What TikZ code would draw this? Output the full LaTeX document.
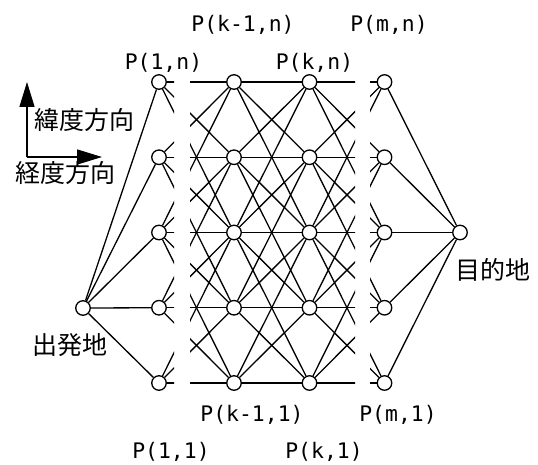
\documentclass[tikz,border=0pt]{standalone}
\usepackage{fontspec}
\newfontfamily\jpfont{Noto Sans CJK JP}
\newfontfamily\pmono{DejaVu Sans Mono}
\usetikzlibrary{arrows.meta}
\newcommand\nearlinks[2]{%
  \foreach \a in {1,...,5}{\foreach \b in {1,...,5}{%
    \ifnum\numexpr\a-\b\relax<3 \ifnum\numexpr\b-\a\relax<3
      \draw[edge] (P#1\a) -- (P#2\b);
    \fi\fi
  }}%
}
\begin{document}
\begin{tikzpicture}[x=1pt,y=-1pt,
  pt/.style={circle,draw,fill=white,line width=1.3pt,minimum size=14.5pt,inner sep=0pt},
  edge/.style={line width=1.3pt},
  plabel/.style={font=\pmono\fontsize{21.4}{24}\selectfont,inner sep=0pt},
  jlabel/.style={font=\jpfont\fontsize{25}{28}\selectfont,inner sep=0pt},
  dirarrow/.style={line width=1.5pt,-{Triangle[length=25pt,width=15pt]}}]
\useasboundingbox (0,0) rectangle (538,465);
% nodes
\node[pt] (S) at (83,308) {};
\node[pt] (E) at (460,232.5) {};
\foreach \c/\x in {1/159,2/234,3/309.5,4/384.5}{
  \foreach \r/\y in {1/383,2/307.75,3/232.5,4/157.25,5/82}{
    \node[pt] (P\c\r) at (\x,\y) {};
  }
}
% edges
\foreach \r in {1,...,5}{
  \draw[edge] (S) -- (P1\r);
  \draw[edge] (P4\r) -- (E);
}
\begin{scope}
  \clip (0,0) rectangle (174,465);
  \nearlinks{1}{2}
\end{scope}
\begin{scope}
  \clip (190,0) rectangle (355,465);
  \nearlinks{1}{2}
  \nearlinks{2}{3}
  \nearlinks{3}{4}
\end{scope}
\begin{scope}
  \clip (370,0) rectangle (538,465);
  \nearlinks{3}{4}
\end{scope}
% labels
\node[plabel] (l1) at (243,25) {P(k-1,n)};
\node[plabel] (l2) at (389,25) {P(m,n)};
\node[plabel] (l3) at (163.5,63) {P(1,n)};
\node[plabel] (l4) at (314.5,63) {P(k,n)};
\node[plabel] (l5) at (252,415) {P(k-1,1)};
\node[plabel] (l6) at (398,415) {P(m,1)};
\node[plabel] (l7) at (171,452) {P(1,1)};
\node[plabel] (l8) at (324,452) {P(k,1)};
\node[jlabel] (j1) at (84,120) {緯度方向};
\node[jlabel] (j2) at (66,173) {経度方向};
\node[jlabel] (j3) at (70,345) {出発地};
\node[jlabel] (j4) at (493,270) {目的地};
% direction arrows
\coordinate (O) at (27,157);
\coordinate (N) at (27,82);
\coordinate (R) at (102,157);
\draw[dirarrow] (O) -- (N);
\draw[dirarrow] (O) -- (R);
\end{tikzpicture}
\end{document}
